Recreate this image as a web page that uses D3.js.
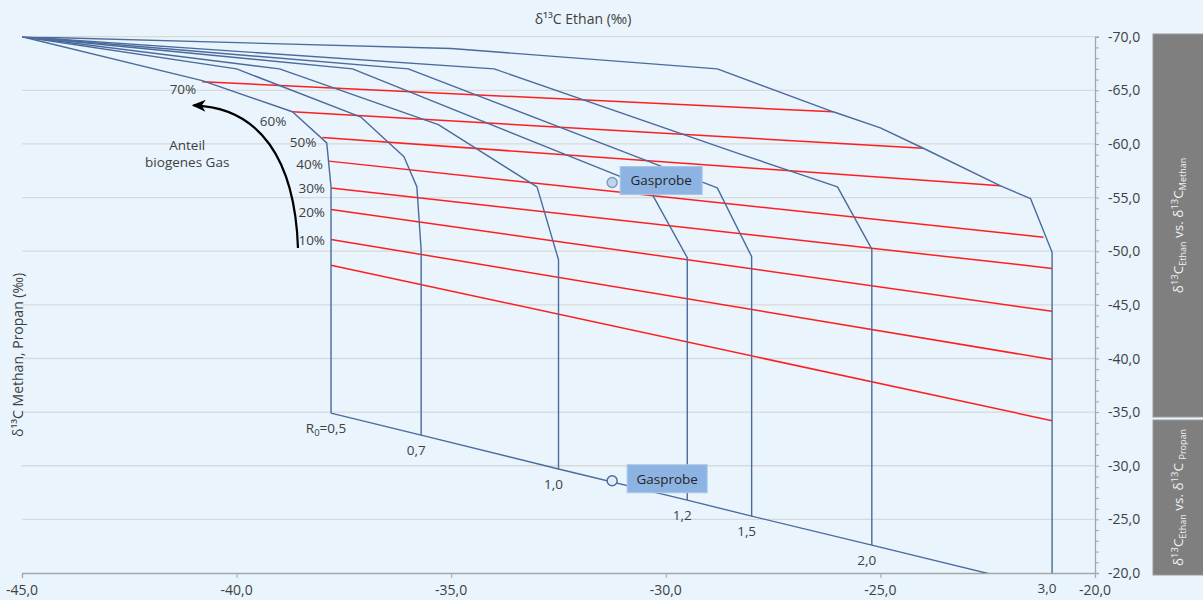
<!DOCTYPE html>
<html>
<head>
<meta charset="utf-8">
<script src="https://cdn.jsdelivr.net/npm/d3@7"></script>
<style>
  html, body { margin: 0; padding: 0; background: #e9f4fd; }
  svg { display: block; font-family: "Open Sans", sans-serif; }
</style>
</head>
<body>
<svg id="chart" width="1203" height="600"></svg>
<script>
// axis ticks
const ethaneTicks = [-45, -40, -35, -30, -25, -20];
const methaneTicks = [-70, -65, -60, -55, -50, -45, -40, -35, -30, -25, -20];

// maturity R0 of the thermogenic end members
const maturity = ["0,5", "0,7", "1,0", "1,2", "1,5", "2,0", "3,0"];
// delta13C ethane of the thermogenic gas, and its propane value
const thermoEthane = [-37.8, -35.7, -32.5, -29.5, -28.0, -25.2, -21.0];
const thermoPropane = [-34.9, -32.85, -29.7, -26.8, -25.3, -22.6, -18.5];

// mixing curves ethane vs methane, from biogenic end member to thermogenic gas
const curves = [
  [[-45, -70], [-40.8, -65.9], [-38.7, -63.0], [-37.9, -60.1], [-37.8, -56.0], [-37.8, -50.1]],
  [[-45, -70], [-40.0, -67.0], [-37.1, -62.5], [-36.1, -58.8], [-35.8, -56.0], [-35.7, -50.1]],
  [[-45, -70], [-39.0, -67.0], [-35.3, -61.8], [-33.0, -56.0], [-32.5, -49.2]],
  [[-45, -70], [-37.3, -67.0], [-30.4, -55.9], [-29.5, -49.4]],
  [[-45, -70], [-36.0, -67.0], [-28.8, -55.9], [-28.0, -49.5]],
  [[-45, -70], [-34.0, -67.0], [-28.3, -59.1], [-26.0, -56.0], [-25.2, -50.2]],
  [[-45, -70], [-35.0, -68.9], [-28.8, -67.0], [-26.1, -63.0], [-25.0, -61.5], [-24.0, -59.6],
   [-22.2, -56.1], [-21.5, -54.9], [-21.0, -49.9]]
];

// lines of equal share of biogenic gas
const shareLabels = ["70%", "60%", "50%", "40%", "30%", "20%", "10%", ""];
const isoStart = [[-40.8, -65.8], [-38.7, -63.0], [-38.0, -60.6], [-37.85, -58.4],
                  [-37.8, -55.9], [-37.8, -53.9], [-37.8, -51.1], [-37.8, -48.7]];
const isoEnd = [[-26.1, -63.0], [-24.0, -59.6], [-22.2, -56.1], [-21.2, -51.3],
                [-21.0, -48.4], [-21.0, -44.4], [-21.0, -39.9], [-21.0, -34.2]];

// gas sample (ethane, methane) and (ethane, propane)
const samples = [[-31.25, -56.4], [-31.25, -28.6]];

// arrow "Anteil biogenes Gas": start, control 1, control 2, end
const arrowPts = [[-38.57, -50.3], [-38.64, -58.5], [-39.45, -63.4], [-41.0, -63.6]];

const svg = d3.select("#chart");
const W = 1203, H = 600;

const x = d3.scaleLinear().domain([-45, -20]).range([22, 1095]);
const y = d3.scaleLinear().domain([-70, -20]).range([36.7, 573]);

const blue = "#4a6b9b", red = "#ff1e1e", txt = "#404040";

svg.append("rect").attr("width", W).attr("height", H).attr("fill", "#e9f4fd");

svg.append("defs").append("clipPath").attr("id", "plot")
  .append("rect")
  .attr("x", x(-45)).attr("y", y(-70))
  .attr("width", x(-20) - x(-45)).attr("height", y(-20) - y(-70));

svg.select("defs").append("marker")
  .attr("id", "head")
  .attr("markerUnits", "userSpaceOnUse")
  .attr("markerWidth", 14).attr("markerHeight", 12)
  .attr("viewBox", "0 0 14 12")
  .attr("refX", 12).attr("refY", 6)
  .attr("orient", "auto")
  .append("path")
  .attr("d", "M0,0 L14,6 L0,12 L4,6 Z")
  .attr("fill", "#000");

// gridlines
svg.append("g")
  .selectAll("line")
  .data(methaneTicks.slice(0, -1))
  .join("line")
  .attr("x1", x(-45)).attr("x2", x(-20))
  .attr("y1", d => y(d)).attr("y2", d => y(d))
  .attr("stroke", "#d9d9d9").attr("stroke-width", 1.3);

// right axis
const yAxis = d3.axisRight(y)
  .tickValues(d3.range(-70, -19, 1))
  .tickSize(4)
  .tickFormat("");
const gy = svg.append("g").attr("transform", `translate(${x(-20)},0)`).call(yAxis);
gy.select(".domain").attr("stroke", "#a6a6a6").attr("stroke-width", 1.3);
gy.selectAll(".tick line").attr("stroke", "#a6a6a6");

svg.append("g")
  .selectAll("text")
  .data(methaneTicks)
  .join("text")
  .attr("x", x(-20) + 13)
  .attr("y", d => y(d))
  .attr("dy", "0.36em")
  .attr("font-size", 14)
  .attr("fill", txt)
  .text(d => d3.format(".1f")(d).replace(".", ",").replace("−", "-"));

// bottom axis
const xAxis = d3.axisBottom(x)
  .tickValues(ethaneTicks)
  .tickSize(5)
  .tickFormat("");
const gx = svg.append("g").attr("transform", `translate(0,${y(-20)})`).call(xAxis);
gx.select(".domain").attr("stroke", "#a6a6a6").attr("stroke-width", 1.3);
gx.selectAll(".tick line").attr("stroke", "#a6a6a6");

svg.append("g")
  .selectAll("text")
  .data(ethaneTicks)
  .join("text")
  .attr("x", d => x(d))
  .attr("y", 595)
  .attr("text-anchor", "middle")
  .attr("font-size", 14)
  .attr("fill", txt)
  .text(d => d3.format(".1f")(d).replace(".", ",").replace("−", "-"));

// axis titles
svg.append("text")
  .attr("x", 583).attr("y", 24)
  .attr("text-anchor", "middle")
  .attr("font-size", 14).attr("fill", txt)
  .text("δ¹³C Ethan (‰)");

svg.append("text")
  .attr("transform", "translate(23,355) rotate(-90)")
  .attr("text-anchor", "middle")
  .attr("font-size", 14).attr("fill", txt)
  .text("δ¹³C Methan, Propan (‰)");

// gray side panels
const panels = [
  {y0: 34, y1: 417, sub1: "Ethan", sub2: "Methan", sp: ""},
  {y0: 420, y1: 575, sub1: "Ethan", sub2: "Propan", sp: " "}
];
panels.forEach(p => {
  svg.append("rect")
    .attr("x", 1153).attr("y", p.y0)
    .attr("width", 60).attr("height", p.y1 - p.y0)
    .attr("fill", "#7f7f7f").attr("stroke", "#9a9a9a").attr("stroke-width", 1);
  const t = svg.append("text")
    .attr("transform", `translate(1183,${(p.y0 + p.y1) / 2}) rotate(-90)`)
    .attr("text-anchor", "middle")
    .attr("font-size", 13.5).attr("fill", "#f2f2f2");
  t.append("tspan").text("δ");
  t.append("tspan").attr("font-size", 9.5).attr("dy", -5).text("13");
  t.append("tspan").attr("dy", 5).text("C");
  t.append("tspan").attr("font-size", 9).attr("dy", 3).text(p.sub1);
  t.append("tspan").attr("dy", -3).text(" vs. δ");
  t.append("tspan").attr("font-size", 9.5).attr("dy", -5).text("13");
  t.append("tspan").attr("dy", 5).text("C" + p.sp);
  t.append("tspan").attr("font-size", 9).attr("dy", 3).text(p.sub2);
});

const plot = svg.append("g").attr("clip-path", "url(#plot)");
const line = d3.line().x(d => x(d[0])).y(d => y(d[1]));

// red lines of equal biogenic share
plot.append("g")
  .selectAll("line")
  .data(isoStart)
  .join("line")
  .attr("x1", d => x(d[0])).attr("y1", d => y(d[1]))
  .attr("x2", (d, i) => x(isoEnd[i][0])).attr("y2", (d, i) => y(isoEnd[i][1]))
  .attr("stroke", red).attr("stroke-width", 1.5);

// maturity curves with vertical drop to the propane value
plot.append("g")
  .selectAll("path")
  .data(curves)
  .join("path")
  .attr("d", (c, i) => line(c.concat([[thermoEthane[i], thermoPropane[i]]])))
  .attr("fill", "none")
  .attr("stroke", blue).attr("stroke-width", 1.4)
  .attr("stroke-linejoin", "round");

// ethane vs propane line
plot.append("path")
  .attr("d", line(thermoEthane.map((e, i) => [e, thermoPropane[i]])))
  .attr("fill", "none")
  .attr("stroke", blue).attr("stroke-width", 1.4);

// share labels
svg.append("g")
  .selectAll("text")
  .data(isoStart)
  .join("text")
  .attr("x", d => x(d[0]) - 6)
  .attr("y", (d, i) => y(d[1]) + [12, 14, 9, 8, 5, 8, 6, 0][i])
  .attr("text-anchor", "end")
  .attr("font-size", 13.5).attr("fill", txt)
  .text((d, i) => shareLabels[i]);

// maturity labels
const mat = svg.append("g")
  .selectAll("text")
  .data(maturity)
  .join("text")
  .attr("x", (d, i) => x(thermoEthane[i]) - 5)
  .attr("y", (d, i) => y(Math.min(thermoPropane[i], -20)) + 20)
  .attr("text-anchor", "middle")
  .attr("font-size", 13.5).attr("fill", txt);
mat.each(function(d, i) {
  const t = d3.select(this);
  if (i === 0) {
    t.append("tspan").text("R");
    t.append("tspan").attr("font-size", 9.5).attr("dy", 3).text("0");
    t.append("tspan").attr("dy", -3).text("=" + d);
  } else {
    t.text(d);
  }
});

// arrow and its label
const ap = d3.path();
ap.moveTo(x(arrowPts[0][0]), y(arrowPts[0][1]));
ap.bezierCurveTo(x(arrowPts[1][0]), y(arrowPts[1][1]),
                 x(arrowPts[2][0]), y(arrowPts[2][1]),
                 x(arrowPts[3][0]), y(arrowPts[3][1]));
svg.append("path")
  .attr("d", ap.toString())
  .attr("fill", "none")
  .attr("stroke", "#000").attr("stroke-width", 2.2)
  .attr("marker-end", "url(#head)");

svg.append("text")
  .attr("x", x(-41.15)).attr("y", y(-59.4))
  .attr("text-anchor", "middle")
  .attr("font-size", 13.5).attr("fill", txt)
  .call(t => t.append("tspan").text("Anteil"))
  .call(t => t.append("tspan").attr("x", x(-41.15)).attr("dy", 17).text("biogenes Gas"));

// gas sample markers and labels
const smp = svg.append("g")
  .selectAll("g")
  .data(samples)
  .join("g")
  .attr("transform", d => `translate(${x(d[0])},${y(d[1])})`);

smp.append("circle")
  .attr("r", 5)
  .attr("fill", (d, i) => i === 0 ? "#c3d4ea" : "#e4eefa")
  .attr("stroke", (d, i) => i === 0 ? "#7f98c2" : "#4a6b9b")
  .attr("stroke-width", 1.4);

smp.append("rect")
  .attr("x", (d, i) => i === 0 ? 8 : 15)
  .attr("y", -16)
  .attr("width", (d, i) => i === 0 ? 82 : 80)
  .attr("height", 28)
  .attr("fill", "#8db3e2").attr("stroke", "#a9c6ea").attr("stroke-width", 1);

smp.append("text")
  .attr("x", (d, i) => i === 0 ? 49 : 55)
  .attr("y", -2)
  .attr("dy", "0.36em")
  .attr("text-anchor", "middle")
  .attr("font-size", 13.5).attr("fill", "#262626")
  .text("Gasprobe");
</script>
</body>
</html>
